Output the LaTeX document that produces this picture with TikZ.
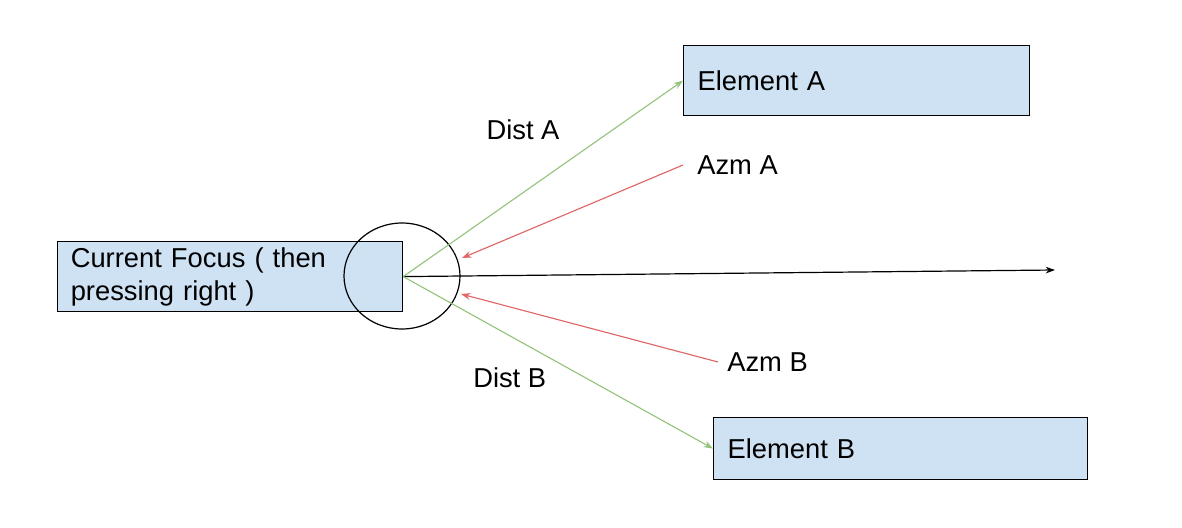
\documentclass[tikz,border=0pt]{standalone}
\usepackage{fontspec}
\setmainfont{Liberation Sans}
\usetikzlibrary{shapes.geometric,arrows.meta}
\definecolor{boxfill}{HTML}{CFE2F3}
\definecolor{distgreen}{HTML}{93C47D}
\definecolor{azmred}{HTML}{E06666}
\begin{document}
\begin{tikzpicture}[
  x=0.75pt,y=-0.75pt,
  every node/.style={font=\fontsize{20.5}{24.75}\selectfont},
  elembox/.style={draw, line width=0.9pt, fill=boxfill, anchor=north west, align=left, inner xsep=10.5pt, inner ysep=0pt},
  ring/.style={draw, ellipse, line width=0.9pt, inner sep=0pt, minimum width=87pt, minimum height=79.5pt},
  lbl/.style={inner sep=0pt},
  distline/.style={-{Stealth[length=7pt,width=5pt]}, line width=0.85pt, draw=distgreen},
  azmline/.style={-{Stealth[length=7pt,width=5pt]}, line width=0.85pt, draw=azmred},
  axis/.style={-{Stealth[length=7pt,width=5pt]}, line width=0.9pt, draw=black}
]
\useasboundingbox (0,0) rectangle (1182,528);

\node[elembox, inner xsep=9.5pt, minimum width=258.75pt, minimum height=52.5pt, text width=239pt] (focus) at (57,241)
  {Current Focus ( then\\pressing right )};
\node[elembox, minimum width=259.5pt, minimum height=52.5pt, text width=238.5pt] (elemA) at (683,45)
  {Element A};
\node[elembox, minimum width=280.5pt, minimum height=46.5pt, text width=259.5pt] (elemB) at (713,417)
  {Element B};
\node[ring] (focusring) at (402,276) {};

\node[lbl] (distA) at (523,130) {Dist A};
\node[lbl, anchor=west] (azmA) at (697,165) {Azm A};
\node[lbl, anchor=west] (azmB) at (727,362) {Azm B};
\node[lbl, anchor=west] (distB) at (473,378) {Dist B};

\coordinate (axisend) at (1055,270);
\coordinate (hitA) at (462,258);
\coordinate (hitB) at (461,294);
\coordinate (azmAstart) at (683,165);
\coordinate (azmBstart) at (718,362);

\draw[axis] (focus.east) -- (axisend);
\draw[distline] (focus.east) -- (elemA.west);
\draw[distline] (focus.east) -- (elemB.west);
\draw[azmline] (azmAstart) -- (hitA);
\draw[azmline] (azmBstart) -- (hitB);
\end{tikzpicture}
\end{document}
